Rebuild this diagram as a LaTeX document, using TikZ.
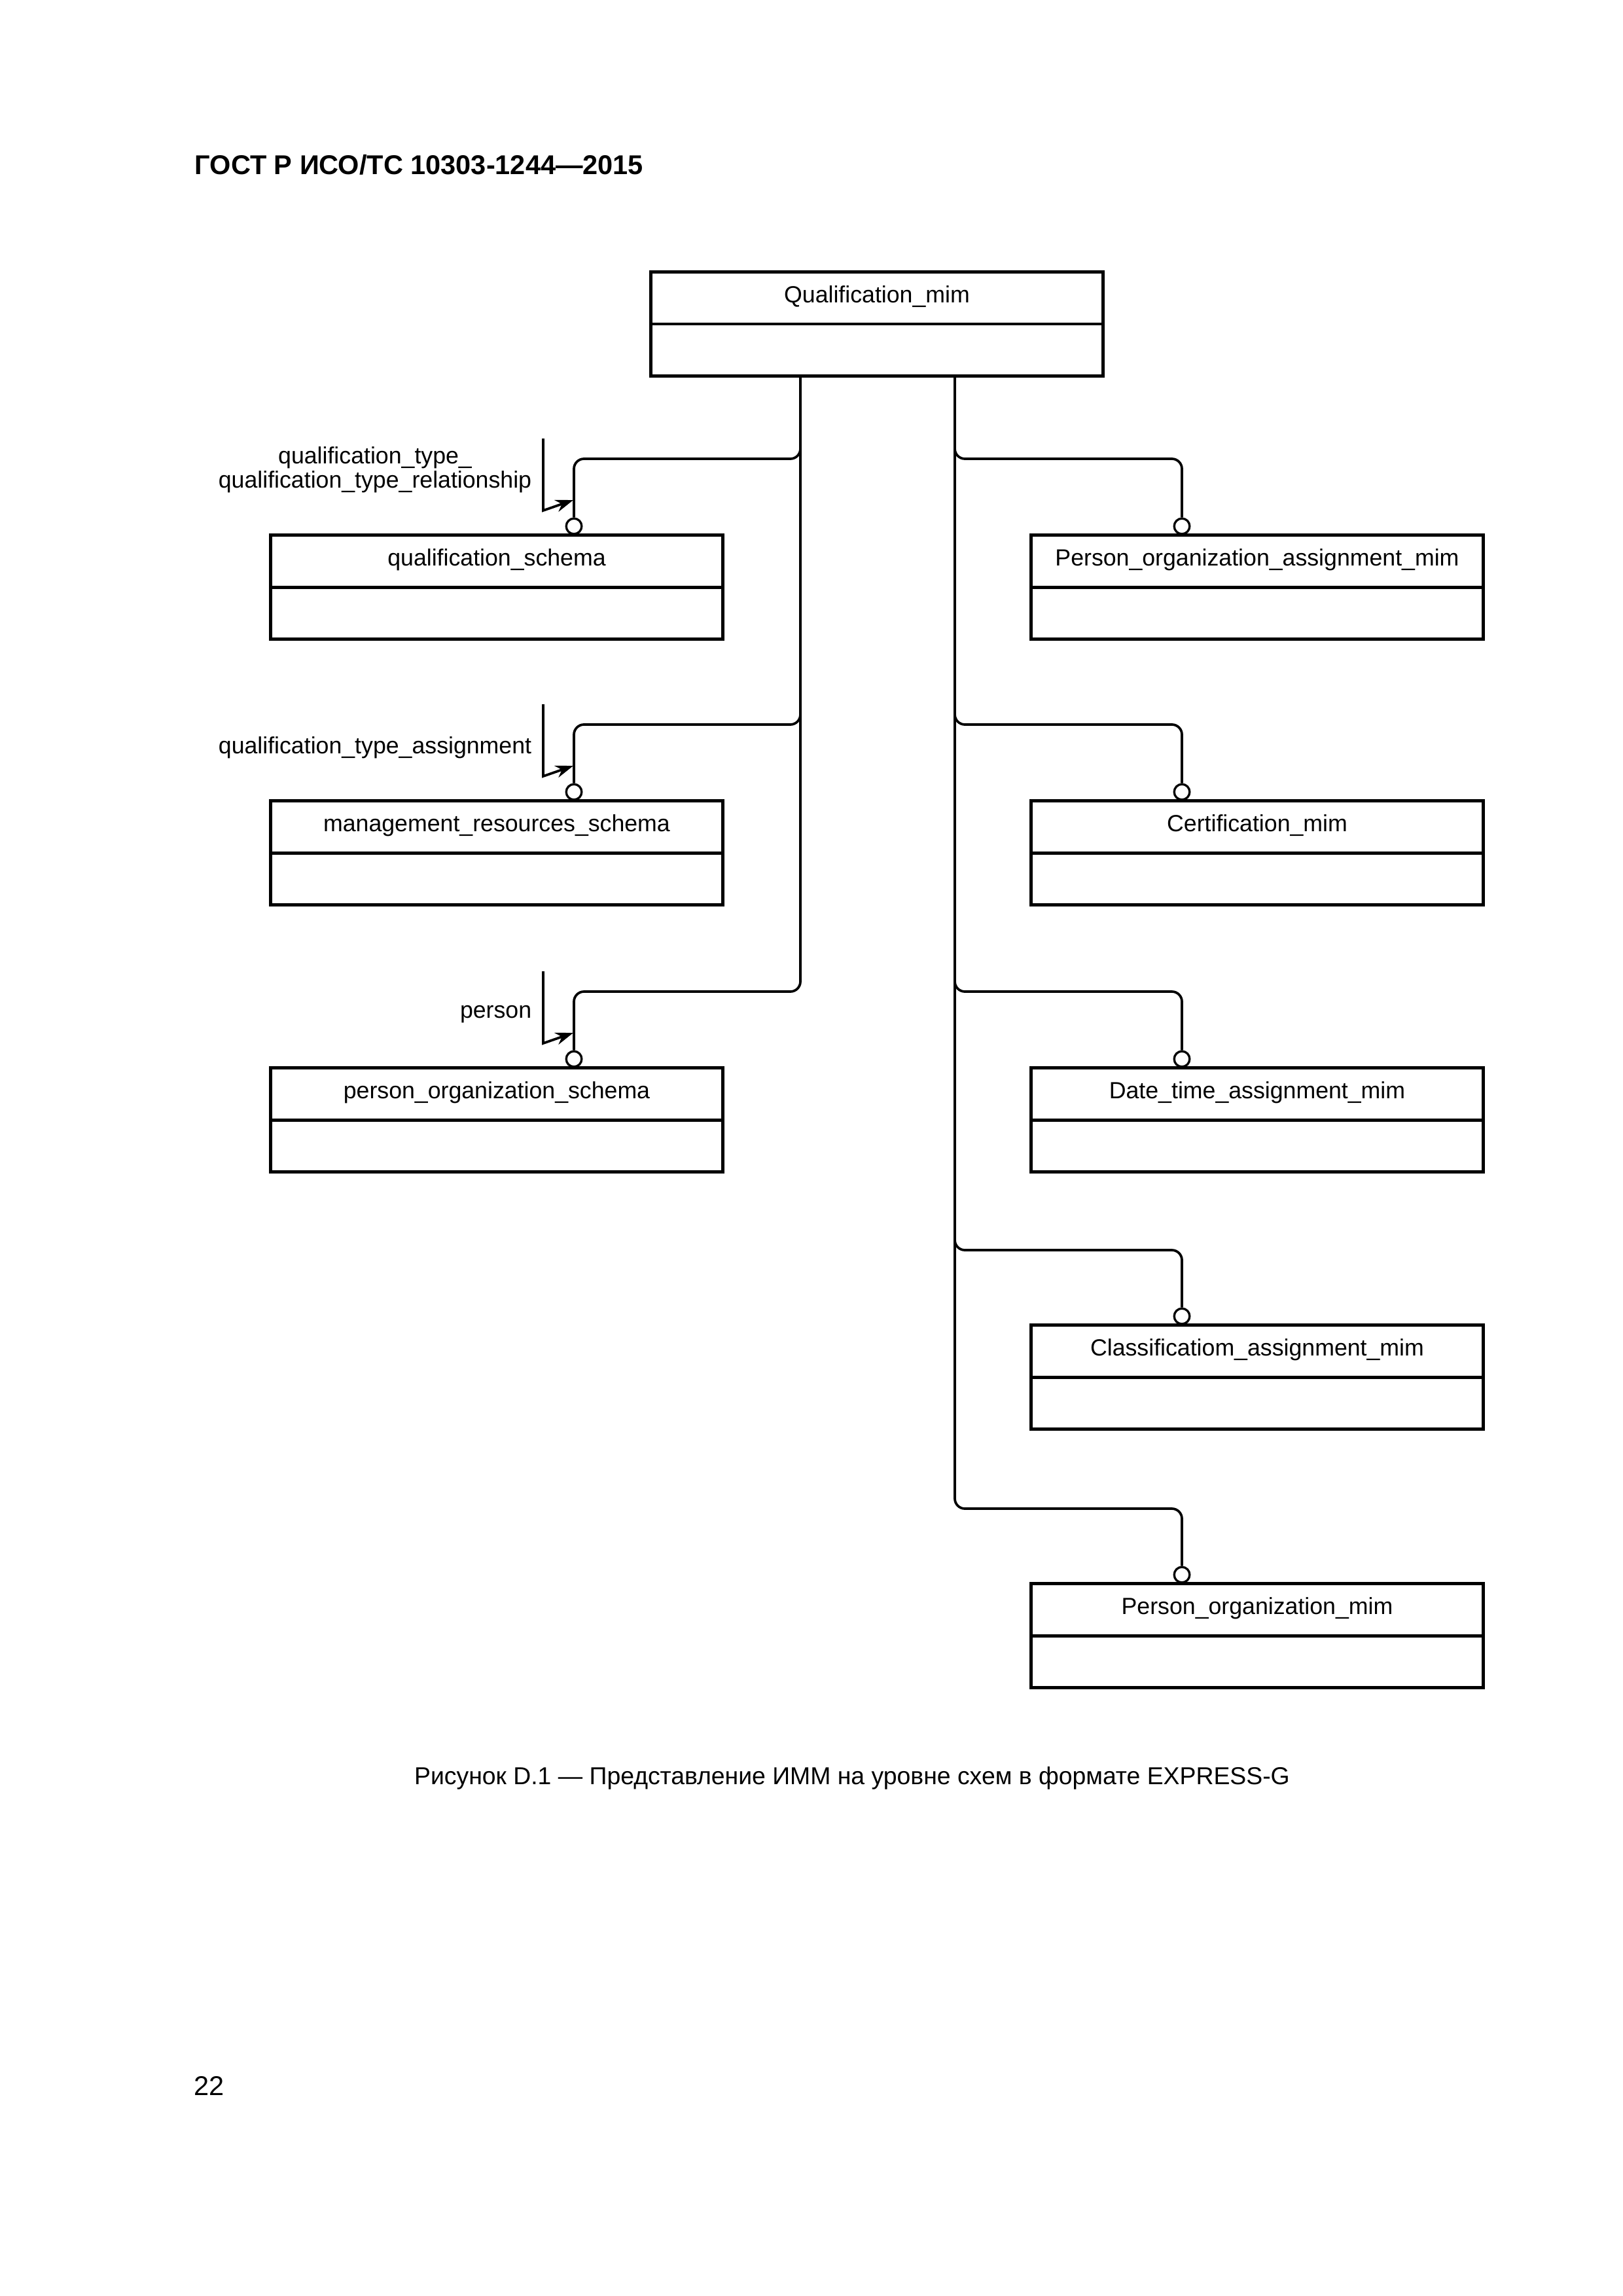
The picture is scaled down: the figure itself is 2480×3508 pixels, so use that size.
\documentclass[tikz,border=0pt]{standalone}
\usepackage{fontspec}
\setmainfont{Liberation Sans}
\usetikzlibrary{arrows.meta}
\tikzset{
  ebox/.style={draw, line width=1.2pt, minimum width=58.5mm, minimum height=13.46mm, inner sep=0pt,
    path picture={\draw[line width=1.2pt] (path picture bounding box.west) -- (path picture bounding box.east);}},
  etext/.style={font=\fontsize{8.6}{9}\selectfont, inner sep=0pt, anchor=center},
  conn/.style={line width=0.9pt, rounded corners=1.3mm},
  ring/.style={draw, circle, line width=0.8pt, minimum size=2mm, inner sep=0pt, fill=white},
  rlabel/.style={font=\fontsize{8.6}{8.9}\selectfont, align=center, anchor=east, inner sep=0pt},
  usedref/.style={line width=0.9pt, -{Stealth[length=2.3mm,width=1.6mm]}}
}
\begin{document}
\begin{tikzpicture}[x=0.084677mm, y=-0.084677mm]
\useasboundingbox (0,0) rectangle (2480,3508);

% header, caption, page number
\node[font=\fontsize{10}{12}\selectfont\bfseries, anchor=base west, inner sep=0pt] (hdr) at (297,266) {ГОСТ Р ИСО/ТС 10303-1244—2015};
\node[font=\fontsize{9}{11}\selectfont, anchor=base, inner sep=0pt] (cap) at (1302,2726) {Рисунок D.1 — Представление ИММ на уровне схем в формате EXPRESS-G};
\node[font=\fontsize{10}{12}\selectfont, anchor=base west, inner sep=0pt] (pg) at (296,3201) {22};

% boxes
\node[ebox] (top) at (1340,495) {};
\node[etext] at ([yshift=-3.39mm]top.north) {Qualification\_mim};

\node[ebox] (qs) at (759,897) {};
\node[etext] at ([yshift=-3.39mm]qs.north) {qualification\_schema};
\node[ebox] (mrs) at (759,1303) {};
\node[etext] at ([yshift=-3.39mm]mrs.north) {management\_resources\_schema};
\node[ebox] (pos) at (759,1711) {};
\node[etext] at ([yshift=-3.39mm]pos.north) {person\_organization\_schema};

\node[ebox] (poa) at (1921,897) {};
\node[etext] at ([yshift=-3.39mm]poa.north) {Person\_organization\_assignment\_mim};
\node[ebox] (cert) at (1921,1303) {};
\node[etext] at ([yshift=-3.39mm]cert.north) {Certification\_mim};
\node[ebox] (dta) at (1921,1711) {};
\node[etext] at ([yshift=-3.39mm]dta.north) {Date\_time\_assignment\_mim};
\node[ebox] (cla) at (1921,2104) {};
\node[etext] at ([yshift=-3.39mm]cla.north) {Classificatiom\_assignment\_mim};
\node[ebox] (pom) at (1921,2499) {};
\node[etext] at ([yshift=-3.39mm]pom.north) {Person\_organization\_mim};

% trunk start points
\coordinate (tl) at (1223,577);
\coordinate (tr) at (1459,577);

% rings
\node[ring] (r1) at (877,804) {};
\node[ring] (r2) at (877,1210) {};
\node[ring] (r3) at (877,1618) {};
\node[ring] (r4) at (1806,804) {};
\node[ring] (r5) at (1806,1210) {};
\node[ring] (r6) at (1806,1618) {};
\node[ring] (r7) at (1806,2011) {};
\node[ring] (r8) at (1806,2406) {};

% connectors left
\draw[conn] (tl) |- (877,701) -- (r1.north);
\draw[conn] (tl) |- (877,1107) -- (r2.north);
\draw[conn] (tl) |- (877,1515) -- (r3.north);
% connectors right
\draw[conn] (tr) |- (1806,701) -- (r4.north);
\draw[conn] (tr) |- (1806,1107) -- (r5.north);
\draw[conn] (tr) |- (1806,1515) -- (r6.north);
\draw[conn] (tr) |- (1806,1910) -- (r7.north);
\draw[conn] (tr) |- (1806,2305) -- (r8.north);

% used-reference brackets and labels
\draw[usedref] (830,670) -- (830,780) -- (876,764);
\node[rlabel] (l1) at (813,718) {qualification\_type\_\\qualification\_type\_relationship};
\draw[usedref] (830,1076) -- (830,1186) -- (876,1170);
\node[rlabel] (l2) at (813,1142) {qualification\_type\_assignment};
\draw[usedref] (830,1484) -- (830,1594) -- (876,1578);
\node[rlabel] (l3) at (813,1550) {person};
\end{tikzpicture}
\end{document}
